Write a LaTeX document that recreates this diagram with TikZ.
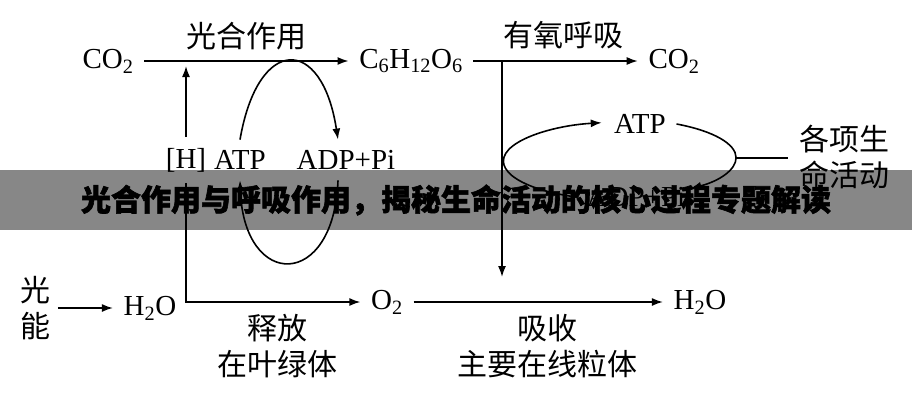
\documentclass[tikz,border=0pt]{standalone}
\usepackage{fontspec}
\setmainfont{Liberation Serif}
\newfontfamily\cjk{Noto Sans CJK SC}
\newfontfamily\bannerfont{Noto Sans CJK SC}[BoldFeatures={FakeBold=2}]
\usetikzlibrary{arrows.meta}

\begin{document}
\begin{tikzpicture}[x=1pt, y=-1pt, line width=1.6pt, >={Latex[length=11pt,width=8pt]},
        chem/.style={inner sep=10pt, font=\fontsize{29}{34}\selectfont},
        lbl/.style={inner sep=2pt, align=center, font=\cjk\fontsize{30}{36}\selectfont}]
            \useasboundingbox (0,0) rectangle (912,400);
            \node[chem] (co2a) at (108,61) {CO\textsubscript{2}};
            \node[chem] (glc) at (411,61) {C\textsubscript{6}H\textsubscript{12}O\textsubscript{6}};
            \node[chem] (co2b) at (674,61) {CO\textsubscript{2}};
            \node[lbl] (photo) at (246,36) {光合作用};
            \node[lbl] (resp) at (563,35) {有氧呼吸};
            \node[chem] (hl) at (186,160) {[H]};
            \node[chem] (atpl) at (240,160) {ATP};
            \node[chem] (adpl) at (346,160) {ADP+Pi};
            \node[chem] (atpr) at (640,124) {ATP};
            \node[chem] (adpr) at (636,197) {ADP+Pi};
            \node[lbl, inner sep=10pt] (life) at (844,157) {各项生\\命活动};
            \node[lbl, inner sep=7pt] (light) at (35,308) {光\\能};
            \node[chem] (h2oa) at (150,308) {H\textsubscript{2}O};
            \node[chem] (o2) at (387,302) {O\textsubscript{2}};
            \node[chem] (h2ob) at (700,302) {H\textsubscript{2}O};
            \node[lbl] (rel) at (277,346) {释放\\在叶绿体};
            \node[lbl] (absb) at (547,346) {吸收\\主要在线粒体};
            \coordinate (htip) at (186,66);
            \coordinate (vtop) at (502,61);
            \coordinate (vbot) at (502,277);

            \draw[->] (co2a) -- (glc);
            \draw[->] (glc) -- (co2b);
            \draw[->] (hl.north) -- (htip);
            \draw[->] (hl.south) |- (o2);
            \draw[->] (light) -- (h2oa);
            \draw[->] (o2) -- (h2ob);
            \draw[->] (vtop) -- (vbot);
            \draw[->] (atpl.north) .. controls (258,35) and (322,35) .. ([xshift=-8pt]adpl.north);
            \draw[->] ([xshift=-8pt]adpl.south) .. controls (334,290) and (244,290) .. (atpl.south);
            \draw[->] (adpr.west) arc[start angle=113, end angle=260, x radius=119, y radius=39];
            \draw[->] (atpr.east) arc[start angle=300, end angle=360, x radius=119, y radius=39]
                coordinate (erght) arc[start angle=0, end angle=52, x radius=119, y radius=39];
            \draw (erght) -- (erght -| life.west);

            \fill[black, fill opacity=0.47] (0,170) rectangle (912,230);
            \node[font=\bannerfont\bfseries\fontsize{30}{30}\selectfont] (title) at (456,200) {光合作用与呼吸作用，揭秘生命活动的核心过程专题解读};
        \end{tikzpicture}
\end{document}
